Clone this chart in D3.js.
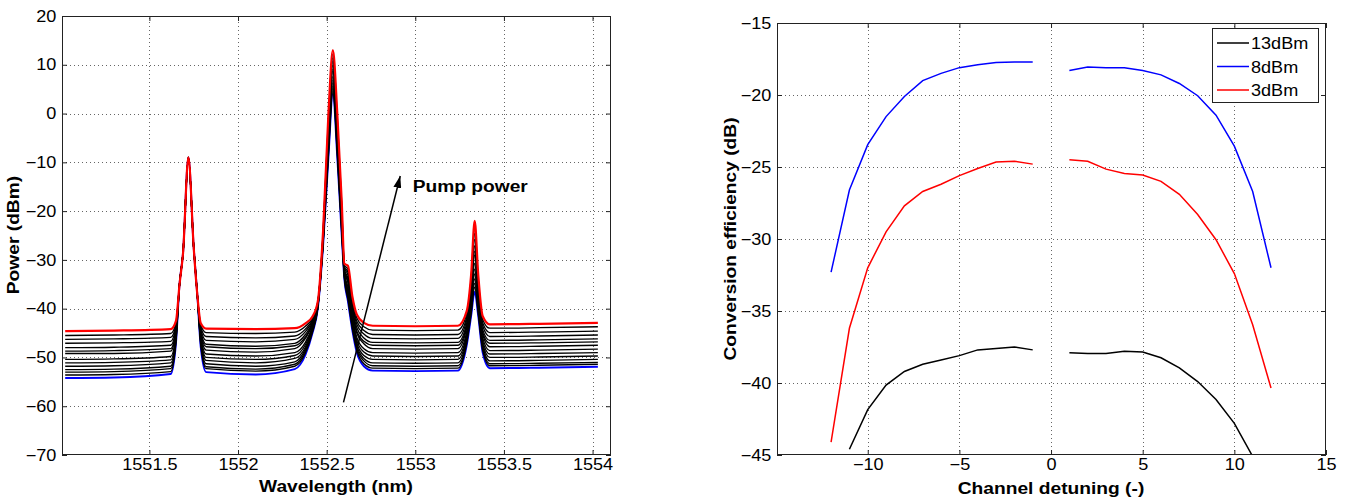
<!DOCTYPE html>
<html><head><meta charset="utf-8">
<script src="https://cdn.jsdelivr.net/npm/d3@7"></script>
<style>
body{margin:0;background:#fff}
text{font-family:"Liberation Sans",Arial,sans-serif}
</style>
</head><body>
<svg id="chart" width="1354" height="503"></svg>
<script>
// ---------------- DATA: left panel (optical spectra) ----------------
const wavelength = [1551.025,1551.30,1551.62,1551.65,1551.67,1551.69,1551.72,1551.75,1551.77,1551.79,1551.82,1552.10,1552.32,1552.38,1552.42,1552.45,1552.48,1552.51,1552.535,1552.56,1552.585,1552.60,1552.62,1552.645,1552.67,1552.71,1552.76,1553.00,1553.24,1553.29,1553.315,1553.335,1553.355,1553.38,1553.42,1553.70,1554.03];

const spectrumRed = [-44.6,-44.5,-44.2,-42.5,-35,-28.5,-9,-27.5,-37,-43.0,-44.1,-44.2,-44.0,-43.0,-41.6,-38.5,-24,0,13,0,-18,-30.8,-31.2,-37.5,-41.2,-42.9,-43.5,-43.6,-43.5,-40.5,-33,-22,-33,-41.5,-43.2,-43.1,-42.9];

const spectraBlack = [
 [-45.5,-45.4,-45.1,-42.9,-35,-28.5,-9,-27.5,-37,-43.4,-44.9,-45.1,-44.8,-43.6,-41.9,-38.6,-24.3,-0.8,12.2,-0.8,-18.6,-31.1,-31.9,-38.1,-41.9,-43.7,-44.4,-44.5,-44.4,-41.1,-33.8,-23.3,-33.8,-42.2,-44.0,-43.9,-43.7],
 [-46.3,-46.2,-45.9,-43.3,-35,-28.5,-9,-27.5,-37,-43.8,-45.7,-46.0,-45.6,-44.2,-42.2,-38.8,-24.5,-1.6,11.4,-1.6,-19.3,-31.4,-32.5,-38.8,-42.6,-44.5,-45.3,-45.4,-45.3,-41.8,-34.5,-24.6,-34.5,-42.9,-44.9,-44.8,-44.6],
 [-47.1,-47.0,-46.7,-43.7,-35,-28.5,-9,-27.5,-37,-44.2,-46.5,-46.8,-46.3,-44.7,-42.5,-38.9,-24.8,-2.3,10.7,-2.3,-19.8,-31.6,-33.1,-39.3,-43.2,-45.2,-46.1,-46.2,-46.1,-42.3,-35.2,-25.8,-35.2,-43.5,-45.7,-45.6,-45.4],
 [-48.0,-47.9,-47.5,-44.1,-35,-28.5,-9,-27.5,-37,-44.6,-47.3,-47.7,-47.1,-45.3,-42.8,-39.0,-25.0,-3.2,9.9,-3.2,-20.5,-31.9,-33.8,-40.0,-43.9,-46.0,-46.9,-47.0,-46.9,-43.0,-36.0,-27.1,-36.0,-44.3,-46.5,-46.4,-46.2],
 [-48.7,-48.6,-48.2,-44.4,-35,-28.5,-9,-27.5,-37,-44.9,-47.8,-48.2,-47.6,-45.8,-43.1,-39.1,-25.3,-3.9,9.1,-3.9,-21.0,-32.2,-34.3,-40.5,-44.6,-46.7,-47.5,-47.6,-47.5,-43.5,-36.7,-28.2,-36.7,-44.9,-47.1,-47.0,-46.8],
 [-49.2,-49.2,-48.7,-44.7,-35,-28.5,-9,-27.5,-37,-45.2,-48.5,-48.9,-48.2,-46.1,-43.2,-39.2,-25.4,-4.3,8.7,-4.3,-21.4,-32.3,-34.7,-40.9,-45.0,-47.2,-48.2,-48.3,-48.2,-43.9,-37.1,-29.0,-37.1,-45.3,-47.8,-47.7,-47.5],
 [-50.4,-50.3,-49.8,-45.2,-35,-28.5,-9,-27.5,-37,-45.8,-49.3,-49.7,-49.0,-46.9,-43.6,-39.4,-25.8,-5.4,7.6,-5.4,-22.2,-32.7,-35.6,-41.7,-45.9,-48.2,-49.0,-49.1,-49.0,-44.7,-38.1,-30.7,-38.1,-46.0,-48.6,-48.5,-48.3],
 [-51.1,-51.0,-50.5,-45.6,-35,-28.5,-9,-27.5,-37,-46.2,-50.0,-50.4,-49.6,-47.4,-43.9,-39.5,-26.0,-6.1,6.9,-6.1,-22.8,-33.0,-36.2,-42.3,-46.5,-48.9,-49.7,-49.8,-49.7,-45.3,-38.8,-31.9,-38.8,-46.6,-49.3,-49.2,-49.0],
 [-51.8,-51.7,-51.1,-45.9,-35,-28.5,-9,-27.5,-37,-46.5,-50.6,-51.1,-50.2,-47.9,-44.1,-39.6,-26.2,-6.8,6.3,-6.8,-23.3,-33.2,-36.7,-42.8,-47.1,-49.6,-50.4,-50.5,-50.4,-45.8,-39.4,-32.9,-39.4,-47.1,-50.0,-49.9,-49.7],
 [-52.5,-52.4,-51.8,-46.2,-35,-28.5,-9,-27.5,-37,-46.9,-51.3,-51.8,-50.9,-48.3,-44.4,-39.7,-26.5,-7.4,5.6,-7.4,-23.7,-33.4,-37.2,-43.2,-47.6,-50.2,-51.1,-51.2,-51.1,-46.2,-40.0,-33.9,-40.0,-47.6,-50.7,-50.6,-50.4],
 [-53.0,-52.9,-52.3,-46.5,-35,-28.5,-9,-27.5,-37,-47.2,-51.9,-52.4,-51.4,-48.7,-44.6,-39.8,-26.6,-7.9,5.1,-7.9,-24.2,-33.6,-37.6,-43.7,-48.1,-50.7,-51.7,-51.8,-51.7,-46.7,-40.5,-34.8,-40.5,-48.0,-51.3,-51.2,-51.0],
 [-53.6,-53.5,-52.9,-46.8,-35,-28.5,-9,-27.5,-37,-47.6,-52.3,-52.8,-51.8,-49.1,-44.8,-39.9,-26.8,-8.5,4.5,-8.5,-24.6,-33.8,-38.1,-44.1,-48.5,-51.3,-52.2,-52.3,-52.2,-47.1,-41.0,-35.6,-41.0,-48.5,-51.7,-51.6,-51.4]
];

const spectrumBlue = [-54.2,-54.1,-53.4,-47.0,-35,-28.5,-9,-27.5,-37,-48.0,-53.0,-53.5,-52.4,-49.5,-45.0,-40.0,-27,-9,4,-9,-25,-34,-38.5,-44.5,-49,-51.8,-52.7,-52.8,-52.7,-47.5,-41.5,-36.5,-41.5,-49.0,-52.2,-52.1,-51.9];

const wavelengthTicks = [1551.5,1552,1552.5,1553,1553.5,1554];
const wavelengthTickLabels = ["1551.5","1552","1552.5","1553","1553.5","1554"];
const powerTicks = [-70,-60,-50,-40,-30,-20,-10,0,10,20];
const arrowTail = [1552.595, -59.2];
const arrowHead = [1552.915, -12.8];
const annotationText = "Pump power";

// ---------------- DATA: right panel (conversion efficiency) ----------------
const detuningNeg = [-12,-11,-10,-9,-8,-7,-6,-5,-4,-3,-2,-1];
const detuningPos = [1,2,3,4,5,6,7,8,9,10,11,12];
const ce13Neg = [null,-44.6,-41.85,-40.15,-39.2,-38.7,-38.4,-38.1,-37.7,-37.6,-37.5,-37.7];
const ce13Pos = [-37.9,-37.95,-37.95,-37.8,-37.85,-38.25,-38.95,-39.9,-41.15,-42.8,-45.1,null];
const ce8Neg = [-32.3,-26.6,-23.45,-21.5,-20.1,-19.0,-18.5,-18.1,-17.9,-17.75,-17.7,-17.7];
const ce8Pos = [-18.3,-18.05,-18.1,-18.1,-18.3,-18.6,-19.2,-20.05,-21.4,-23.55,-26.7,-32.0];
const ce3Neg = [-44.1,-36.2,-32.0,-29.5,-27.7,-26.7,-26.2,-25.6,-25.1,-24.65,-24.6,-24.8];
const ce3Pos = [-24.5,-24.6,-25.15,-25.45,-25.55,-26.0,-26.9,-28.3,-30.05,-32.4,-35.95,-40.35];
const seriesNames = ["13dBm","8dBm","3dBm"];
const seriesColors = ["#000000","#0000ff","#ff0000"];
const detuningTicks = [-10,-5,0,5,10,15];
const ceTicks = [-45,-40,-35,-30,-25,-20,-15];

// ---------------- DRAWING ----------------
const SX = 1.13;            // horizontal glyph stretch of the reference font
const svg = d3.select("#chart");
const defs = svg.append("defs");

function panel(id, xr, yr, xd, yd, xt, yt, xfmt) {
  const x = d3.scaleLinear().domain(xd).range(xr);
  const y = d3.scaleLinear().domain(yd).range(yr);
  const g = svg.append("g");
  defs.append("clipPath").attr("id", id).append("rect")
    .attr("x", xr[0]).attr("y", yr[1]).attr("width", xr[1]-xr[0]).attr("height", yr[0]-yr[1]);
  const grid = g.append("g").attr("stroke", "#666").attr("stroke-dasharray", "1,3").attr("stroke-width", 1);
  grid.selectAll(".gx").data(xt.filter(t => x(t) > xr[0]+1 && x(t) < xr[1]-1)).join("line")
    .attr("x1", d => Math.round(x(d))+0.5).attr("x2", d => Math.round(x(d))+0.5)
    .attr("y1", yr[0]).attr("y2", yr[1]);
  grid.selectAll(".gy").data(yt.filter(t => y(t) < yr[0]-1 && y(t) > yr[1]+1)).join("line")
    .attr("y1", d => Math.round(y(d))+0.5).attr("y2", d => Math.round(y(d))+0.5)
    .attr("x1", xr[0]).attr("x2", xr[1]);
  const data = g.append("g").attr("clip-path", `url(#${id})`);
  const styleAxis = (sel) => {
    sel.select(".domain").remove();
    sel.selectAll(".tick line").attr("stroke", "#222");
    sel.selectAll("text").attr("font-size", 16).attr("fill", "#000")
      .attr("font-family", '"Liberation Sans",Arial,sans-serif');
  };
  const ax = g.append("g").attr("transform", `translate(0,${yr[0]})`)
    .call(d3.axisBottom(x).tickValues(xt).tickFormat(xfmt).tickSizeInner(-5).tickSizeOuter(0).tickPadding(4))
    .call(styleAxis);
  ax.selectAll("text").attr("transform", `scale(${SX},1)`);
  g.append("g").attr("transform", `translate(0,${yr[1]})`)
    .call(d3.axisTop(x).tickValues(xt).tickFormat("").tickSizeInner(-5).tickSizeOuter(0)).call(styleAxis);
  const ay = g.append("g").attr("transform", `translate(${xr[0]},0)`)
    .call(d3.axisLeft(y).tickValues(yt).tickSizeInner(-5).tickSizeOuter(0).tickPadding(5))
    .call(styleAxis);
  ay.selectAll("text").attr("transform", `scale(${SX},1)`);
  g.append("g").attr("transform", `translate(${xr[1]},0)`)
    .call(d3.axisRight(y).tickValues(yt).tickFormat("").tickSizeInner(-5).tickSizeOuter(0)).call(styleAxis);
  g.append("rect").attr("x", xr[0]+0.5).attr("y", yr[1]+0.5)
    .attr("width", xr[1]-xr[0]-1).attr("height", yr[0]-yr[1]-1)
    .attr("fill", "none").attr("stroke", "#222").attr("stroke-width", 1);
  return {x, y, g, data};
}

function label(txt, cx, cy, rotate) {
  svg.append("text").attr("transform", `translate(${cx},${cy}) rotate(${rotate||0}) scale(${SX},1)`)
    .attr("text-anchor", "middle").attr("font-size", 17).attr("font-weight", "bold").text(txt);
}

// ---- Left panel ----
const L = panel("clipL", [62, 611], [455, 16], [1551.007, 1554.104], [-70, 20],
  wavelengthTicks, powerTicks, (d, i) => wavelengthTickLabels[i]);
const specLine = d3.line().x((d, i) => L.x(wavelength[i])).y(d => L.y(d)).curve(d3.curveMonotoneX);
L.data.append("path").attr("d", specLine(spectrumBlue)).attr("fill", "none").attr("stroke", "#0000ff").attr("stroke-width", 1.9);
L.data.selectAll(".blk").data(spectraBlack).join("path")
  .attr("d", specLine).attr("fill", "none").attr("stroke", "#000").attr("stroke-width", 1.35);
L.data.append("path").attr("d", specLine(spectrumRed)).attr("fill", "none").attr("stroke", "#ff0000").attr("stroke-width", 2.2);

defs.append("marker").attr("id", "ah").attr("viewBox", "0 0 12 8").attr("refX", 12).attr("refY", 4)
  .attr("markerWidth", 12).attr("markerHeight", 8).attr("markerUnits", "userSpaceOnUse").attr("orient", "auto")
  .append("path").attr("d", "M0,0 L12,4 L0,8 Z").attr("fill", "#000");
L.g.append("line").attr("x1", L.x(arrowTail[0])).attr("y1", L.y(arrowTail[1]))
  .attr("x2", L.x(arrowHead[0])).attr("y2", L.y(arrowHead[1]))
  .attr("stroke", "#000").attr("stroke-width", 1.5).attr("marker-end", "url(#ah)");
L.g.append("text").attr("transform", `translate(${L.x(1552.985)},${L.y(-14.8)+6}) scale(${SX},1)`)
  .attr("font-size", 17).attr("font-weight", "bold").text(annotationText);

label("Wavelength (nm)", 336, 492, 0);
label("Power (dBm)", 19, 235, -90);

// ---- Right panel ----
const R = panel("clipR", [777, 1326], [455, 23], [-14.95, 15], [-45, -15],
  detuningTicks, ceTicks, d3.format("d"));
const ceLine = (xs) => d3.line().defined(d => d != null).x((d, i) => R.x(xs[i])).y(d => R.y(d));
const ceSeries = [[ce13Neg, ce13Pos], [ce8Neg, ce8Pos], [ce3Neg, ce3Pos]];
ceSeries.forEach((pair, k) => {
  R.data.append("path").attr("d", ceLine(detuningNeg)(pair[0])).attr("fill", "none")
    .attr("stroke", seriesColors[k]).attr("stroke-width", 1.5);
  R.data.append("path").attr("d", ceLine(detuningPos)(pair[1])).attr("fill", "none")
    .attr("stroke", seriesColors[k]).attr("stroke-width", 1.5);
});
label("Channel detuning (-)", 1051, 494, 0);
label("Conversion efficiency (dB)", 736, 239, -90);

// legend
const lg = svg.append("g");
lg.append("rect").attr("x", 1212.5).attr("y", 28.5).attr("width", 106).attr("height", 74)
  .attr("fill", "#fff").attr("stroke", "#222");
seriesNames.forEach((n, i) => {
  const yy = 43 + i * 23.5;
  lg.append("line").attr("x1", 1217).attr("x2", 1249).attr("y1", yy).attr("y2", yy)
    .attr("stroke", seriesColors[i]).attr("stroke-width", 1.5);
  lg.append("text").attr("transform", `translate(1251,${yy + 6}) scale(${SX},1)`)
    .attr("font-size", 16).text(n);
});
</script>
</body></html>
